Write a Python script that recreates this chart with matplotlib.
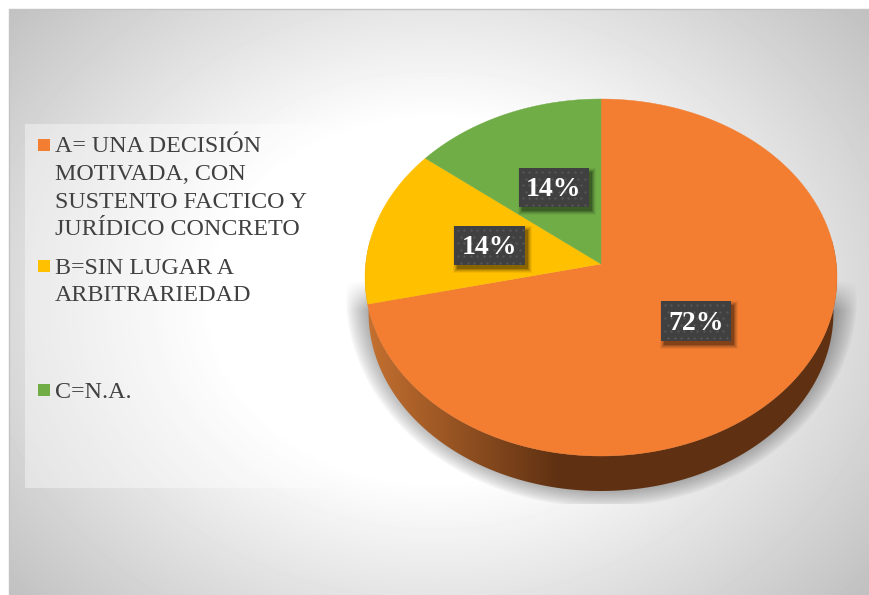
"""
Pie chart with tilted 3D look, legend panel on the left.
"""
import numpy as np
import matplotlib
matplotlib.use("Agg")
import matplotlib.pyplot as plt
from matplotlib.patches import Polygon, Rectangle

plt.rcParams["font.family"] = ["Liberation Serif", "DejaVu Serif"]

# ── Data ───────────────────────────────────────────────────────────────────
categories = [
    "A= UNA DECISIÓN\nMOTIVADA, CON\nSUSTENTO FACTICO Y\nJURÍDICO CONCRETO",
    "B=SIN LUGAR A\nARBITRARIEDAD",
    "C=N.A.",
]
shares = [71.43, 14.285, 14.285]
pct_labels = ["72%", "14%", "14%"]

# ── Design tokens ──────────────────────────────────────────────────────────
ORANGE = "#F37E32"
YELLOW = "#FFC000"
GREEN = "#70AD47"
TEXT = "#404040"
colors = [ORANGE, YELLOW, GREEN]

W, H = 870, 595
CX, CY = 601, 264      # apex of the slices
RX, R_UP, R_DN = 235.3, 165, 192
DEPTH = 35

fig = plt.figure(figsize=(8.7, 5.95), dpi=100, facecolor="white")
ax = fig.add_axes([0, 0, 1, 1])
ax.axis("off")


def project(theta):
    # theta clockwise from the top, simple perspective tilt
    k = (R_DN - R_UP) / (R_DN + R_UP)
    a = R_UP * (1 + k)
    u, v = np.sin(theta), np.cos(theta)
    s = 1 + k * v
    return CX + RX * u / s, CY - a * v / s


# ── Background gradient ────────────────────────────────────────────────────
yy, xx = np.mgrid[0:H, 0:W]
t = np.sqrt(((xx - 435) / 360.0) ** 2 + ((yy - 300) / 290.0) ** 2)
bg = 1 - 0.26 * np.clip(t - 0.62, 0, 1)
ax.imshow(bg, cmap="gray", vmin=0, vmax=1, extent=(0, W, H, 0), aspect="auto",
          zorder=0, interpolation="bilinear")
ax.add_patch(Rectangle((0, 0), W, 9, fc="white", ec="none", zorder=1))
ax.add_patch(Rectangle((0, 0), 9, H, fc="white", ec="none", zorder=1))
ax.plot([9, 9, W], [H, 9, 9], color="#c4c4c4", lw=1, zorder=1)

# ── Shadow under the pie ───────────────────────────────────────────────────
d = np.sqrt(((xx - CX) / 256.0) ** 2 + ((yy - 295) / 212.0) ** 2)
sh = np.clip((1.0 - d) / 0.12, 0, 1) ** 0.8 * 0.42
sh[(yy < 280) | (yy > 503)] = 0
sh_rgba = np.zeros((H, W, 4))
sh_rgba[..., 3] = sh * np.clip((yy - 280) / 30.0, 0, 1)
ax.imshow(sh_rgba, extent=(0, W, H, 0), aspect="auto", zorder=2,
          interpolation="bilinear")

# ── Side wall ──────────────────────────────────────────────────────────────
th = np.radians(np.linspace(82, 278, 240))
tx, ty = project(th)
bx = CX + (tx - CX) * 0.985
by = ty + DEPTH
wall = Polygon(np.r_[np.c_[tx, ty], np.c_[bx, by][::-1]], closed=True,
               fc="none", ec="none", zorder=3)
ax.add_patch(wall)
g = np.clip((xx[0] - 368) / 190.0, 0, 1)
c0, c1 = np.array([0xC4, 0x70, 0x30]) / 255, np.array([0x5F, 0x31, 0x12]) / 255
grad = (c0[None, :] * (1 - g[:, None]) + c1[None, :] * g[:, None])[None, :, :]
im = ax.imshow(grad, extent=(0, W, H, 0), aspect="auto", zorder=3)
im.set_clip_path(wall)

# ── Slices ─────────────────────────────────────────────────────────────────
start = 0.0
for share, col in zip(shares, colors):
    end = start + share / sum(shares) * 2 * np.pi
    sx, sy = project(np.linspace(start, end, 200))
    ax.fill(np.r_[CX, sx], np.r_[CY, sy], fc=col, ec=col, lw=0.3, zorder=4)
    start = end

# ── Data labels ────────────────────────────────────────────────────────────
label_boxes = [(661, 301, 70, 40), (454, 226, 71, 39), (519, 168, 70, 39)]
for (bx0, by0, bw, bh), lab in zip(label_boxes, pct_labels):
    for grow, alpha in [(4, 0.05), (3, 0.08), (2, 0.10), (1, 0.14), (0, 0.2)]:
        ax.add_patch(Rectangle((bx0 + 3 - grow, by0 + 4 - grow), bw + 2 * grow, bh + 2 * grow,
                               fc="black", ec="none", alpha=alpha, zorder=5))
    ax.add_patch(Rectangle((bx0, by0), bw, bh, fc="#404040", ec="none", zorder=6))
    gx, gy = np.meshgrid(np.arange(bx0 + 4, bx0 + bw, 6.5), np.arange(by0 + 4, by0 + bh, 6.5))
    gx[1::2] += 3.25
    keep = gx < bx0 + bw - 1
    ax.scatter(gx[keep], gy[keep], s=3, c="#555555", linewidths=0, zorder=7)
    ax.text(bx0 + bw / 2, by0 + bh / 2 + 2, lab, color="white", fontsize=20,
            fontweight="bold", ha="center", va="center", zorder=8)

# ── Legend panel ───────────────────────────────────────────────────────────
ax.add_patch(Rectangle((25, 124), 295, 364, fc="white", ec="none", alpha=0.4, zorder=2))
legend_y = [147, 268, 392]
for cat, col, y in zip(categories, colors, legend_y):
    ax.add_patch(Rectangle((38, y - 8), 12, 12, fc=col, ec="none", zorder=4))
    for i, line in enumerate(cat.split("\n")):
        ax.text(55, y + i * 27.6, line, color=TEXT, fontsize=17.3,
                ha="left", va="center", zorder=4)

ax.set_xlim(0, W)
ax.set_ylim(H, 0)
fig.savefig("out.png", dpi=100, facecolor="white")
plt.close(fig)
